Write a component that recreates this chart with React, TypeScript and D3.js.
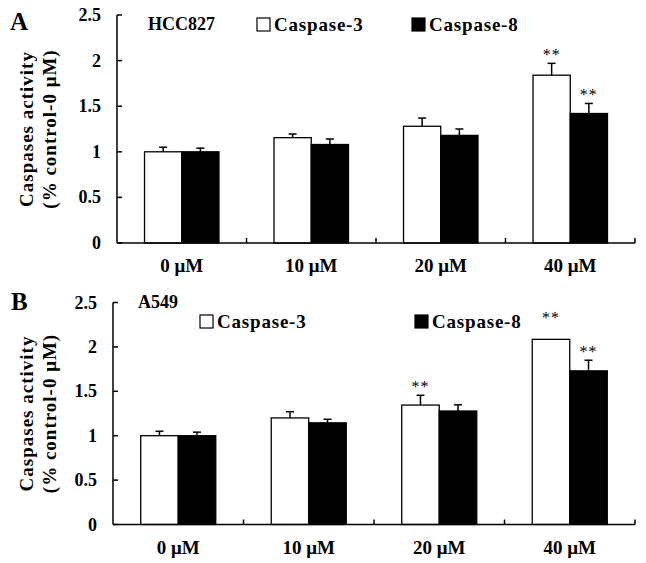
import React from "react";
import * as d3 from "d3";

const categories = ["0 μM", "10 μM", "20 μM", "40 μM"];
const yTicks = [0, 0.5, 1, 1.5, 2, 2.5];
const seriesNames = ["Caspase-3", "Caspase-8"];

// Panel A (HCC827)
const aCasp3 = [1.0, 1.155, 1.28, 1.84];
const aCasp3Err = [0.05, 0.04, 0.09, 0.13];
const aCasp8 = [1.0, 1.08, 1.18, 1.42];
const aCasp8Err = [0.04, 0.06, 0.07, 0.11];
const aStars3 = [false, false, false, true];
const aStars8 = [false, false, false, true];

// Panel B (A549)
const bCasp3 = [1.0, 1.2, 1.345, 2.085];
const bCasp3Err = [0.05, 0.07, 0.11, 0];
const bCasp8 = [1.0, 1.145, 1.278, 1.73];
const bCasp8Err = [0.04, 0.04, 0.07, 0.12];
const bStars3 = [false, false, true, true];
const bStars8 = [false, false, false, true];

const FONT = "'Liberation Serif', 'Times New Roman', serif";

type PanelProps = {
  letter: string;
  cell: string;
  x0: number;
  x1: number;
  yBottom: number;
  yTop: number;
  s3: number[];
  e3: number[];
  s8: number[];
  e8: number[];
  st3: boolean[];
  st8: boolean[];
  letterPos: [number, number];
  cellPos: [number, number];
  leg3: [number, number];
  leg8: [number, number];
};

function Panel(p: PanelProps) {
  const x = d3
    .scaleBand<string>()
    .domain(categories)
    .range([p.x0, p.x1])
    .paddingInner(0.425)
    .paddingOuter(0.2125);
  const xs = d3.scaleBand<string>().domain(seriesNames).range([0, x.bandwidth()]);
  const y = d3.scaleLinear().domain([0, 2.5]).range([p.yBottom, p.yTop]);
  const step = x.step();
  const series = [
    { name: seriesNames[0], vals: p.s3, errs: p.e3, stars: p.st3, fill: "#fff" },
    { name: seriesNames[1], vals: p.s8, errs: p.e8, stars: p.st8, fill: "#000" },
  ];
  const cap = 4;
  const midY = (p.yBottom + p.yTop) / 2;
  return (
    <g fontFamily={FONT} fontWeight="bold">
      <text x={p.letterPos[0]} y={p.letterPos[1]} fontSize={25}>
        {p.letter}
      </text>
      {/* y axis title */}
      <text
        transform={`translate(33,${midY}) rotate(-90)`}
        textAnchor="middle"
        fontSize={19}
        letterSpacing={1}
      >
        Caspases activity
      </text>
      <text
        transform={`translate(56,${midY}) rotate(-90)`}
        textAnchor="middle"
        fontSize={19}
        letterSpacing={1}
      >
        (% control-0 μM)
      </text>
      {/* bars */}
      {series.map((s) =>
        categories.map((c, i) => {
          const bx = (x(c) as number) + (xs(s.name) as number);
          const bw = xs.bandwidth();
          const cx = bx + bw / 2;
          const top = y(s.vals[i]);
          const eTop = y(s.vals[i] + s.errs[i]);
          const starBase = s.errs[i] > 0 ? eTop - 3.5 : top - 16;
          return (
            <g key={s.name + c}>
              <rect
                x={bx}
                y={top}
                width={bw}
                height={p.yBottom - top}
                fill={s.fill}
                stroke="#000"
                strokeWidth={1.3}
              />
              {s.errs[i] > 0 && (
                <g stroke="#000" strokeWidth={1.5}>
                  <line x1={cx} x2={cx} y1={top} y2={eTop} />
                  <line x1={cx - cap} x2={cx + cap} y1={eTop} y2={eTop} />
                </g>
              )}
              {s.stars[i] && (
                <text
                  x={cx}
                  y={starBase}
                  textAnchor="middle"
                  fontSize={16}
                  fontWeight="normal"
                  letterSpacing={1}
                >
                  **
                </text>
              )}
            </g>
          );
        })
      )}
      {/* axes */}
      <line x1={p.x0} x2={p.x0} y1={p.yTop} y2={p.yBottom} stroke="#000" strokeWidth={1.5} />
      <line x1={p.x0} x2={p.x1} y1={p.yBottom} y2={p.yBottom} stroke="#000" strokeWidth={1.5} />
      {yTicks.map((t) => (
        <g key={"yt" + t}>
          <line x1={p.x0} x2={p.x0 + 5} y1={y(t)} y2={y(t)} stroke="#000" strokeWidth={1.5} />
          <text x={p.x0 - 16} y={y(t) + 6} textAnchor="end" fontSize={18}>
            {String(t)}
          </text>
        </g>
      ))}
      {categories.map((c, i) => {
        const tx = p.x0 + step * (i + 1);
        return (
          <line key={"xt" + c} x1={tx} x2={tx} y1={p.yBottom} y2={p.yBottom - 5} stroke="#000" strokeWidth={1.5} />
        );
      })}
      {categories.map((c) => (
        <text key={"xl" + c} x={(x(c) as number) + x.bandwidth() / 2} y={p.yBottom + 29} textAnchor="middle" fontSize={19}>
          {c}
        </text>
      ))}
      {/* legend */}
      <text x={p.cellPos[0]} y={p.cellPos[1]} fontSize={18}>
        {p.cell}
      </text>
      <rect x={p.leg3[0]} y={p.leg3[1] - 13} width={13} height={13} fill="#fff" stroke="#000" strokeWidth={1.2} />
      <text x={p.leg3[0] + 17} y={p.leg3[1]} fontSize={19} letterSpacing={0.8}>
        {seriesNames[0]}
      </text>
      <rect x={p.leg8[0]} y={p.leg8[1] - 13} width={13} height={13} fill="#000" stroke="#000" strokeWidth={1.2} />
      <text x={p.leg8[0] + 17} y={p.leg8[1]} fontSize={19} letterSpacing={0.8}>
        {seriesNames[1]}
      </text>
    </g>
  );
}

export default function App() {
  return (
    <svg width={646} height={563} style={{ display: "block", position: "absolute", left: 0, top: 0 }}>
      <rect width={646} height={563} fill="#fff" />
      <Panel
        letter="A"
        cell="HCC827"
        x0={117}
        x1={635}
        yBottom={243}
        yTop={15}
        s3={aCasp3}
        e3={aCasp3Err}
        s8={aCasp8}
        e8={aCasp8Err}
        st3={aStars3}
        st8={aStars8}
        letterPos={[10, 30]}
        cellPos={[148, 30]}
        leg3={[257, 31]}
        leg8={[412, 31]}
      />
      <Panel
        letter="B"
        cell="A549"
        x0={113}
        x1={635}
        yBottom={524.5}
        yTop={302.5}
        s3={bCasp3}
        e3={bCasp3Err}
        s8={bCasp8}
        e8={bCasp8Err}
        st3={bStars3}
        st8={bStars8}
        letterPos={[11, 310]}
        cellPos={[138, 308]}
        leg3={[200, 328]}
        leg8={[415, 328]}
      />
    </svg>
  );
}
